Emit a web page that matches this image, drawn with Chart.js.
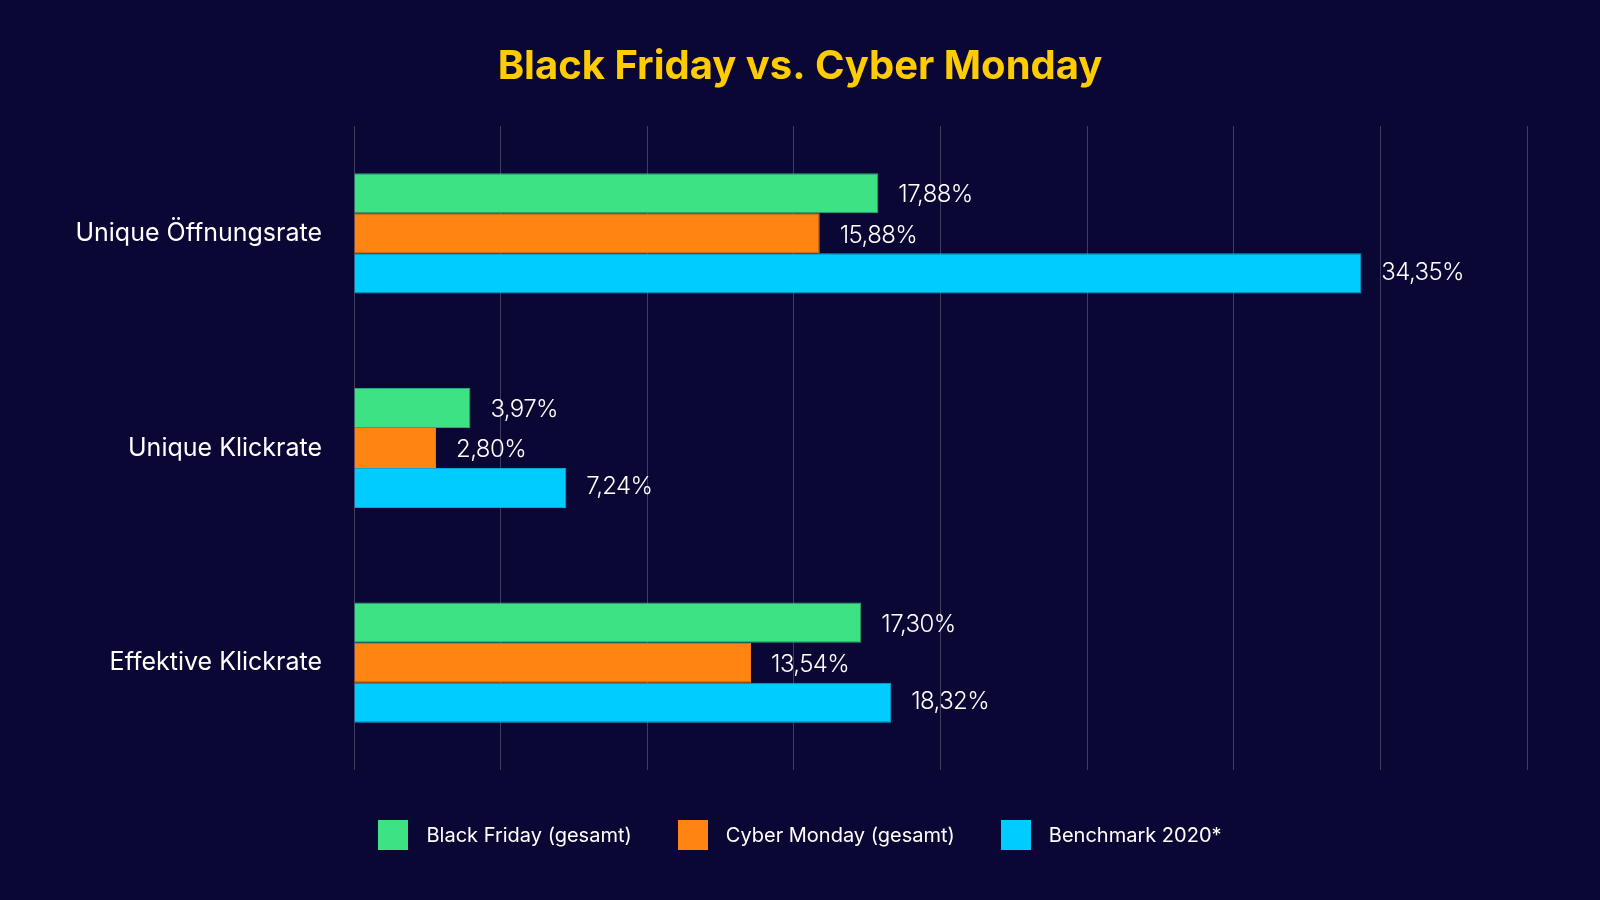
<!DOCTYPE html>
<html>
<head>
<meta charset="utf-8">
<script src="https://cdn.jsdelivr.net/npm/chart.js@4.4.1/dist/chart.umd.min.js"></script>
<style>
    html, body { margin: 0; padding: 0; background: #0a0735; }
    #wrap { position: relative; width: 1600px; height: 900px; }
    #legend {
        position: absolute; left: 0; top: 820px; width: 1600px;
        display: flex; justify-content: center; gap: 46px;
        font-family: Inter, sans-serif; font-size: 20px; color: #fff;
    }
    .item { display: flex; align-items: center; height: 30px; }
    .box { width: 30px; height: 30px; margin-right: 18px; }
</style>
</head>
<body>
<div id="wrap">
    <canvas id="chart" width="1600" height="900"></canvas>
    <div id="legend"></div>
</div>
<script>
const categories = ["Unique Öffnungsrate", "Unique Klickrate", "Effektive Klickrate"];
const seriesNames = ["Black Friday (gesamt)", "Cyber Monday (gesamt)", "Benchmark 2020*"];
const blackFriday = [17.88, 3.97, 17.30];
const cyberMonday = [15.88, 2.80, 13.54];
const benchmark = [34.35, 7.24, 18.32];
const colors = ["#3de284", "#ff8412", "#00ccff"];
const borders = ["#2fa779", "#ff8412", "#0aa8d6"];

function fmt(v) {
    return v.toFixed(2).replace(".", ",") + "%";
}

// Werte rechts neben die Balken schreiben
const valueLabels = {
    id: "valueLabels",
    afterDatasetsDraw(chart) {
        const ctx = chart.ctx;
        ctx.save();
        ctx.fillStyle = "#ffffff";
        ctx.font = "300 24px Inter";
        ctx.letterSpacing = "-0.6px";
        ctx.textAlign = "left";
        ctx.textBaseline = "middle";
        chart.data.datasets.forEach((ds, i) => {
            chart.getDatasetMeta(i).data.forEach((bar, j) => {
                ctx.fillText(fmt(ds.data[j]), bar.x + 20, bar.y + (i === 2 ? -1 : 2));
            });
        });
        ctx.restore();
    }
};

function buildLegend() {
    const el = document.getElementById("legend");
    seriesNames.forEach((name, i) => {
        const item = document.createElement("div");
        item.className = "item";
        item.innerHTML = `<span class="box" style="background:${colors[i]}"></span><span>${name}</span>`;
        el.appendChild(item);
    });
}

window.onload = () => {
    const ctx = document.getElementById("chart").getContext("2d");
    new Chart(ctx, {
        type: "bar",
        data: {
            labels: categories,
            datasets: [blackFriday, cyberMonday, benchmark].map((d, i) => ({
                label: seriesNames[i],
                data: d,
                backgroundColor: colors[i],
                borderColor: borders[i],
                borderWidth: 1,
                barPercentage: 1,
                categoryPercentage: 0.56
            }))
        },
        options: {
            indexAxis: "y",
            responsive: false,
            animation: false,
            layout: { padding: { left: 73, right: 73, top: 0, bottom: 130 } },
            plugins: {
                legend: { display: false },
                tooltip: { enabled: false },
                title: {
                    display: true,
                    text: "Black Friday vs. Cyber Monday",
                    color: "#ffcc00",
                    font: { family: "Inter", size: 40, weight: "bold" },
                    padding: { top: 43, bottom: 35 }
                }
            },
            scales: {
                x: {
                    min: 0, max: 40,
                    ticks: { display: false, stepSize: 5 },
                    grid: { color: "rgba(255,255,255,0.22)", drawTicks: false },
                    border: { display: false }
                },
                y: {
                    ticks: { color: "#ffffff", font: { family: "Inter", size: 25 }, padding: 32 },
                    grid: { display: false, drawTicks: false },
                    border: { display: false },
                    afterFit(scale) { scale.width = 281; }
                }
            }
        },
        plugins: [valueLabels]
    });
    buildLegend();
};
</script>
</body>
</html>
